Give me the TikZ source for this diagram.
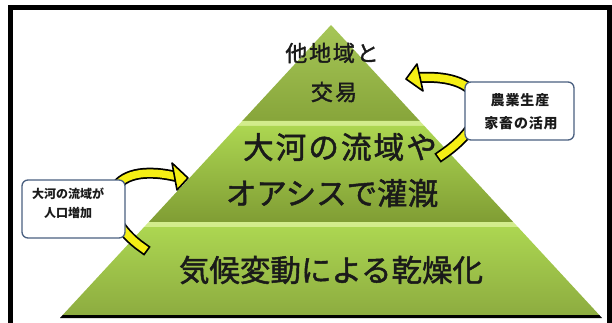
\documentclass[tikz,border=0pt]{standalone}
\usepackage{fontspec}
\newfontfamily\jp{Noto Sans CJK JP}
\newfontfamily\jpm{Noto Sans CJK JP}[FakeBold=1.6]
\usetikzlibrary{calc}
\definecolor{frameblack}{HTML}{000000}
\definecolor{tierTopA}{HTML}{A6C657}
\definecolor{tierTopB}{HTML}{87A53A}
\definecolor{tierA}{HTML}{ACD651}
\definecolor{tierB}{HTML}{809D34}
\definecolor{tierC}{HTML}{8DAC40}
\definecolor{hilite}{HTML}{D2EC8C}
\definecolor{baseline}{HTML}{6A842A}
\definecolor{arrowyellow}{HTML}{F5EF14}
\definecolor{boxline}{HTML}{4A6080}
\definecolor{textdark}{HTML}{1A1A1A}
\tikzset{
  bigtext/.style={font=\jpm\fontsize{30.5}{32}\selectfont, text=textdark, inner sep=0pt},
  toptext/.style={font=\jpm\fontsize{22}{24}\selectfont, text=textdark, inner sep=0pt},
  calloutbox/.style={draw=boxline, line width=1.3pt, fill=white, rounded corners=6pt, inner sep=0pt},
  callouttext/.style={font=\jp\bfseries\fontsize{12}{14}\selectfont, text=textdark, inner sep=0pt},
  calloutbig/.style={font=\jp\bfseries\fontsize{14}{16}\selectfont\addfontfeature{LetterSpace=6}, text=textdark, inner sep=0pt},
  bodyout/.style={draw=black, line width=11pt, line cap=rect},
  bodyin/.style={draw=arrowyellow, line width=7.5pt, line cap=rect},
  headstyle/.style={fill=arrowyellow, draw=black, line width=1.6pt, line join=round}
}
\begin{document}
\begin{tikzpicture}[x=1pt,y=-1pt]
\useasboundingbox (0,0) rectangle (612,323);
\clip (0,0) rectangle (612,323);
\fill[white] (0,0) rectangle (612,323);
% frame
\draw[line width=5pt, frameblack] (10.5,340) -- (10.5,7.5) -- (609.5,7.5) -- (609.5,340);
% pyramid tiers
\shade[top color=tierTopA, bottom color=tierTopB] (331,25) -- (419.8,121) -- (242.2,121) -- cycle;
\fill[hilite] (242.2,121) -- (419.8,121) -- (424.4,126) -- (237.6,126) -- cycle;
\shade[top color=tierA, bottom color=tierB] (237.6,126) -- (424.4,126) -- (513.2,222) -- (148.8,222) -- cycle;
\fill[hilite] (148.8,222) -- (513.2,222) -- (517.9,227) -- (144.1,227) -- cycle;
\shade[top color=tierA, bottom color=tierC] (144.1,227) -- (517.9,227) -- (599.3,315) -- (62.7,315) -- cycle;
\fill[baseline] (62.7,315) -- (599.3,315) -- (602,318) -- (60,318) -- cycle;
% texts
\node[toptext, font=\jpm\fontsize{22}{24}\selectfont\addfontfeature{LetterSpace=8}] (t1) at (332,53) {他地域と};
\node[toptext, font=\jpm\fontsize{22}{24}\selectfont\addfontfeature{LetterSpace=10}] (t2) at (334,92) {交易};
\node[bigtext, font=\jpm\fontsize{30.5}{32}\selectfont\addfontfeature{LetterSpace=7}] (m1) at (340,147) {大河の流域や};
\node[bigtext] (m2) at (332,193) {オアシスで灌漑};
\node[bigtext] (b1) at (331,270) {気候変動による乾燥化};
% right arrow
\coordinate (ras) at (442,155);
\coordinate (rae) at (420,77.5);
\draw[bodyout] (ras) .. controls (500,115) and (485,74) .. (rae);
\draw[bodyin] (ras) .. controls (500,115) and (485,74) .. (rae);
\coordinate (rtip) at (406,79);
\coordinate (rb1) at (417,64);
\coordinate (rb2) at (423,91);
\draw[headstyle] (rtip) -- (rb1) -- (rb2) -- cycle;
% left arrow
\coordinate (las) at (143,248);
\coordinate (lae) at (174,176);
\draw[bodyout] (las) .. controls (95,215) and (100,160) .. (lae);
\draw[bodyin] (las) .. controls (95,215) and (100,160) .. (lae);
\coordinate (ltip) at (188,178);
\coordinate (lb1) at (172,163);
\coordinate (lb2) at (177,190);
\draw[headstyle] (ltip) -- (lb1) -- (lb2) -- cycle;
% callout boxes
\node[calloutbox, minimum width=109pt, minimum height=58pt] (rbox) at (519.5,111) {};
\node[calloutbig] (r1) at (520,100) {農業生産};
\node[calloutbig] (r2) at (521,123) {家畜の活用};
\node[calloutbox, minimum width=103pt, minimum height=58pt] (lbox) at (73.5,209) {};
\node[callouttext] (l1) at (68,194) {大河の流域が};
\node[callouttext] (l2) at (68,213) {人口増加};
\end{tikzpicture}
\end{document}
